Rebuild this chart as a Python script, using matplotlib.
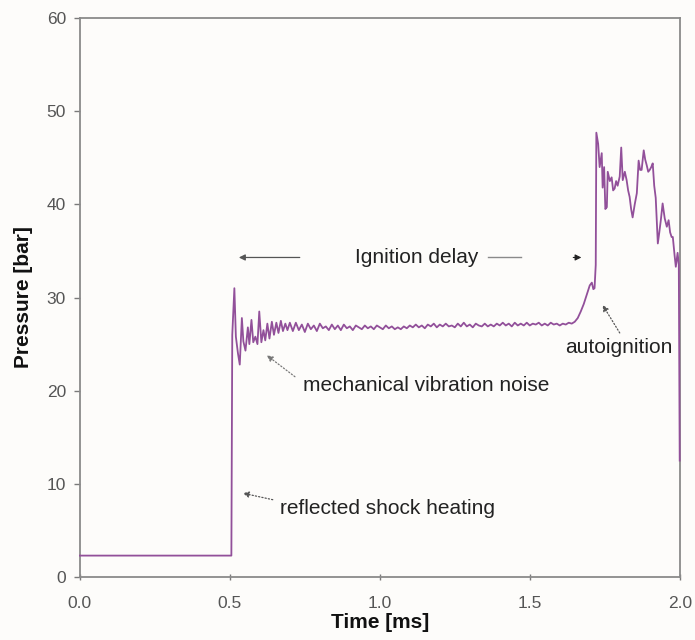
import matplotlib
matplotlib.use("Agg")
import matplotlib.pyplot as plt

# ---- data ----
time_early = [0.0, 0.505, 0.508, 0.515, 0.52, 0.527, 0.533, 0.54, 0.545, 0.552, 0.56, 0.565,
              0.572, 0.578, 0.585, 0.592, 0.598, 0.605, 0.612, 0.618, 0.625, 0.632, 0.64,
              0.647, 0.655, 0.662, 0.67, 0.677, 0.685, 0.692, 0.70]
p_early = [2.3, 2.3, 26.0, 31.0, 25.8, 24.0, 22.8, 27.8, 25.3, 24.3, 26.8, 25.0,
           27.6, 25.2, 25.8, 25.0, 28.5, 25.2, 26.5, 25.4, 27.2, 25.6, 27.4,
           26.0, 27.3, 26.2, 27.5, 26.4, 27.2, 26.5, 27.3]

time_mid = [0.71, 0.72, 0.73, 0.74, 0.75, 0.76, 0.77, 0.78, 0.79, 0.80, 0.81, 0.82, 0.83, 0.84,
            0.85, 0.86, 0.87, 0.88, 0.89, 0.90, 0.91, 0.92, 0.93, 0.94, 0.95, 0.96, 0.97, 0.98,
            0.99, 1.00, 1.01, 1.02, 1.03, 1.04, 1.05, 1.06, 1.07, 1.08, 1.09, 1.10, 1.11, 1.12,
            1.13, 1.14, 1.15, 1.16, 1.17, 1.18, 1.19, 1.20, 1.21, 1.22, 1.23, 1.24, 1.25, 1.26,
            1.27, 1.28, 1.29, 1.30, 1.31, 1.32, 1.33, 1.34, 1.35, 1.36, 1.37, 1.38, 1.39, 1.40,
            1.41, 1.42, 1.43, 1.44, 1.45, 1.46, 1.47, 1.48, 1.49, 1.50, 1.51, 1.52, 1.53, 1.54,
            1.55, 1.56, 1.57, 1.58, 1.59, 1.60, 1.61, 1.62, 1.63, 1.64, 1.65]
p_mid = [26.4, 27.3, 26.5, 27.1, 26.3, 27.2, 26.6, 27.0, 26.4, 27.2, 26.7, 26.9, 26.5, 27.1,
         26.6, 27.0, 26.5, 27.1, 26.7, 26.9, 26.5, 27.0, 26.8, 26.6, 27.0, 26.7, 26.9, 26.6,
         27.0, 26.8, 26.6, 27.0, 26.7, 26.9, 26.6, 26.8, 26.6, 26.9, 26.7, 27.0, 26.8, 27.1,
         26.8, 27.0, 26.7, 27.1, 26.9, 27.2, 26.8, 27.1, 26.9, 27.2, 26.9, 27.0, 26.8, 27.2,
         26.9, 27.3, 26.9, 27.1, 26.8, 27.2, 27.0, 26.9, 27.2, 26.9, 27.1, 26.9, 27.2, 27.0,
         27.3, 27.0, 27.2, 26.9, 27.3, 27.0, 27.2, 27.0, 27.3, 27.0, 27.2, 27.1, 27.3, 27.0,
         27.2, 27.0, 27.3, 27.1, 27.2, 27.0, 27.2, 27.1, 27.3, 27.2, 27.4]

time_late = [1.66, 1.67, 1.68, 1.69, 1.70, 1.707, 1.712, 1.716, 1.720, 1.722, 1.728, 1.733,
             1.740, 1.743, 1.748, 1.752, 1.757, 1.760, 1.767, 1.773, 1.778, 1.783, 1.788,
             1.793, 1.800, 1.805, 1.810, 1.817, 1.823, 1.828, 1.833, 1.838, 1.843, 1.850,
             1.857, 1.863, 1.868, 1.873, 1.880, 1.885, 1.890, 1.895, 1.900, 1.905, 1.910,
             1.915, 1.920, 1.927, 1.932, 1.937, 1.943, 1.950, 1.957, 1.963, 1.968, 1.973,
             1.977, 1.983, 1.987, 1.993, 1.997, 2.000]
p_late = [27.8, 28.5, 29.3, 30.3, 31.3, 31.6, 30.9, 31.0, 33.5, 47.7, 46.5, 44.0,
          45.5, 41.8, 44.0, 39.5, 39.7, 43.5, 42.5, 42.9, 41.5, 41.7, 42.5,
          42.0, 43.0, 46.1, 42.6, 43.5, 42.6, 41.5, 40.8, 39.5, 38.6, 40.0,
          41.2, 44.7, 43.7, 43.7, 45.8, 44.8, 44.2, 43.5, 43.7, 44.0, 44.4,
          42.0, 40.7, 35.8, 37.0, 38.3, 40.1, 38.5, 37.6, 38.3, 37.0, 36.5,
          36.5, 34.5, 33.3, 34.8, 33.5, 12.5]

x_ticks = [0.0, 0.5, 1.0, 1.5, 2.0]
x_tick_labels = ["0.0", "0.5", "1.0", "1.5", "2.0"]
y_ticks = [0, 10, 20, 30, 40, 50, 60]

time_ms = time_early + time_mid + time_late
pressure = p_early + p_mid + p_late

plt.rcParams['font.family'] = ['Liberation Sans', 'DejaVu Sans']

fig = plt.figure(figsize=(6.95, 6.4), dpi=100, facecolor='#fdfcfa')
ax = fig.add_axes([0.115, 0.0984, 0.863, 0.8734])
ax.set_facecolor('#fdfcfa')

ax.plot(time_ms, pressure, color='#92509a', lw=1.3, clip_on=False, zorder=3)

ax.set_xlim(0, 2.0)
ax.set_ylim(0, 60)
ax.set_xticks(x_ticks)
ax.set_xticklabels(x_tick_labels)
ax.set_yticks(y_ticks)
ax.tick_params(axis='both', colors='#7a7a7a', labelcolor='#555555', labelsize=12.5,
               length=4, width=1.0)
ax.tick_params(axis='x', pad=12, direction='inout')
ax.tick_params(axis='y', pad=6)
for s in ax.spines.values():
    s.set_color('#8a8a8a')
    s.set_linewidth(1.3)

ax.set_xlabel('Time [ms]', fontsize=15, fontweight='bold', color='#111111', labelpad=1)
ax.set_ylabel('Pressure [bar]', fontsize=15, fontweight='bold', color='#111111', labelpad=10)

txt = dict(fontsize=15, color='#222222', va='center', ha='left')

# Ignition delay
ax.text(0.917, 34.3, 'Ignition delay', **txt)
ax.annotate('', xy=(0.53, 34.3), xytext=(0.733, 34.3),
            arrowprops=dict(arrowstyle='-|>', color='#555555', lw=0.9,
                            mutation_scale=9, shrinkA=0, shrinkB=0))
ax.plot([1.36, 1.47], [34.3, 34.3], color='#8a8a8a', lw=1.0)
ax.annotate('', xy=(1.672, 34.3), xytext=(1.645, 34.3),
            arrowprops=dict(arrowstyle='-|>', color='#222222', lw=0.8,
                            mutation_scale=9, shrinkA=0, shrinkB=0))

# autoignition
ax.text(1.617, 24.6, 'autoignition', **txt)
ax.annotate('', xy=(1.743, 29.2), xytext=(1.80, 26.2),
            arrowprops=dict(arrowstyle='-|>', color='#555555', lw=0.9, ls=':',
                            mutation_scale=9, shrinkA=0, shrinkB=0))

# mechanical vibration noise
ax.text(0.743, 20.6, 'mechanical vibration noise', **txt)
ax.annotate('', xy=(0.623, 23.8), xytext=(0.717, 21.5),
            arrowprops=dict(arrowstyle='-|>', color='#777777', lw=0.9, ls=':',
                            mutation_scale=9, shrinkA=0, shrinkB=0))

# reflected shock heating
ax.text(0.667, 7.4, 'reflected shock heating', **txt)
ax.annotate('', xy=(0.543, 9.0), xytext=(0.643, 8.3),
            arrowprops=dict(arrowstyle='-|>', color='#555555', lw=0.9, ls=':',
                            mutation_scale=9, shrinkA=0, shrinkB=0))

fig.savefig('out.png', dpi=100, facecolor=fig.get_facecolor())
